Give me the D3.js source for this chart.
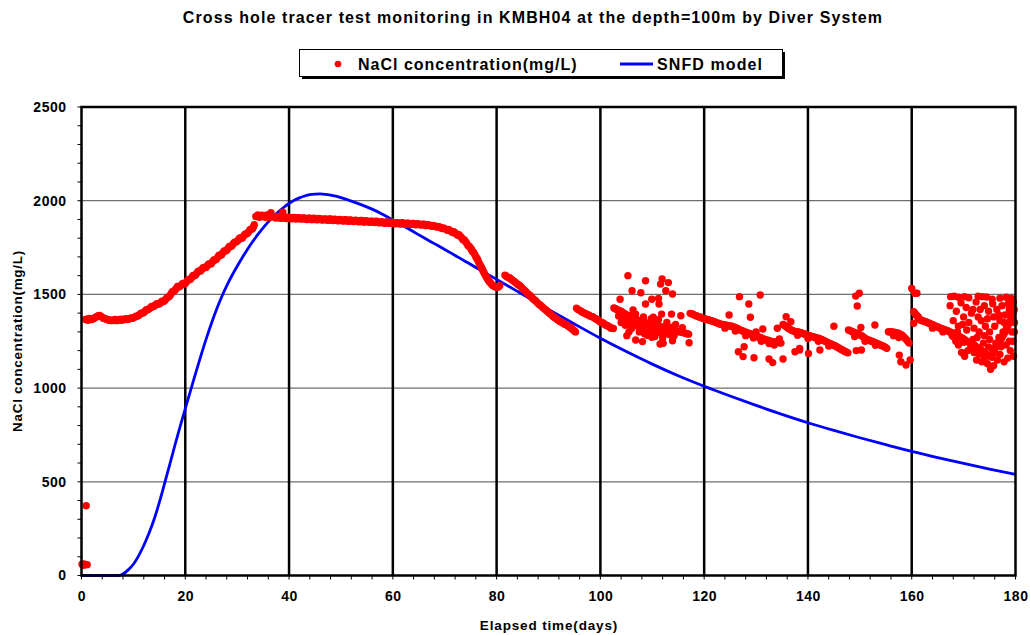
<!DOCTYPE html>
<html>
<head>
<meta charset="utf-8">
<script src="https://cdn.jsdelivr.net/npm/d3@7"></script>
<style>
  html, body { margin: 0; padding: 0; background: #fff; }
  svg { display: block; font-family: Arial, "Liberation Sans", sans-serif; }
</style>
</head>
<body>
<svg id="chart" width="1030" height="635"></svg>
<script>
// ---- Data -------------------------------------------------------------
const xTicks = [0, 20, 40, 60, 80, 100, 120, 140, 160, 180];
const yTicks = [0, 500, 1000, 1500, 2000, 2500];

// SNFD model curve: [elapsed day, concentration mg/L]
const modelCurve = [
  [0, 0], [3, 0], [6, 0], [7.2, 0], [8, 8], [9, 30], [10, 60], [11, 105], [12, 160],
  [13, 225], [14, 300], [15, 390], [16, 490], [17, 592], [18, 695], [19, 795], [20, 890],
  [21, 985], [22, 1080], [23, 1172], [24, 1260], [25, 1342], [26, 1418], [27, 1486],
  [28, 1547], [29, 1601], [30, 1650], [31, 1697], [32, 1741], [33, 1782], [34, 1820],
  [35, 1855], [36, 1887], [37, 1916], [38, 1942], [39, 1965], [40, 1985], [41, 2002],
  [42, 2015], [43, 2025], [44, 2032], [45, 2035], [46, 2036], [47, 2034], [48, 2030],
  [49, 2024], [50, 2016], [52, 1998], [54, 1978], [56, 1955], [58, 1928], [60, 1897],
  [62, 1866], [64, 1834], [66, 1802], [68, 1771], [70, 1740], [72, 1708], [74, 1676],
  [76, 1644], [78, 1612], [80, 1580], [85, 1500], [90, 1420], [95, 1342], [100, 1266],
  [105, 1195], [110, 1128], [115, 1066], [120, 1010], [125, 958], [130, 908], [135, 860],
  [140, 815], [145, 774], [150, 735], [155, 698], [160, 662], [165, 629], [170, 598],
  [175, 568], [180, 540]
];

// NaCl concentration readings: [elapsed day, mg/L]
const naclStart = [
  [0.1, 60], [0.3, 55], [0.5, 62], [0.7, 57], [0.9, 372], [1.1, 58]
];
const naclRise = [
  [0.8, 1366], [1.0, 1368], [1.5, 1372], [2.0, 1366], [2.5, 1374], [3.0, 1382], [3.5, 1388],
  [4.0, 1378], [4.5, 1372], [5.0, 1366], [5.5, 1364], [6.0, 1362], [6.5, 1366], [7.0, 1364],
  [7.5, 1368], [8.0, 1366], [8.5, 1370], [9.0, 1368], [9.5, 1374], [10.0, 1376], [10.5, 1384],
  [11.0, 1388], [11.5, 1400], [12.0, 1404], [12.5, 1418], [13.0, 1422], [13.5, 1436],
  [14.0, 1438], [14.5, 1450], [15.0, 1450], [15.5, 1464], [16.0, 1466], [16.5, 1484],
  [17.0, 1492], [17.5, 1514], [18.0, 1522], [18.5, 1542], [19.0, 1543], [19.5, 1559],
  [20.0, 1558], [20.5, 1578], [21.0, 1581], [21.5, 1601], [22.0, 1604], [22.5, 1624],
  [23.0, 1626], [23.5, 1644], [24.0, 1644], [24.5, 1662], [25.0, 1664], [25.5, 1684],
  [26.0, 1688], [26.5, 1709], [27.0, 1712], [27.5, 1732], [28.0, 1736], [28.5, 1756],
  [29.0, 1760], [29.5, 1779], [30.0, 1783], [30.5, 1801], [31.0, 1801], [31.5, 1821],
  [32.0, 1826], [32.5, 1846], [33.0, 1852], [33.3, 1872], [33.6, 1916]
];
const naclRiseB = [
  [1.25, 1362], [1.75, 1366], [2.25, 1370], [2.75, 1378], [3.25, 1386], [3.75, 1382],
  [4.25, 1372], [4.75, 1368], [5.25, 1362], [5.75, 1360], [6.25, 1362], [6.75, 1360],
  [7.25, 1364], [7.75, 1362], [8.25, 1366], [8.75, 1366], [9.25, 1370], [9.75, 1372],
  [10.25, 1378], [10.75, 1384], [11.25, 1394], [11.75, 1400], [12.25, 1410], [12.75, 1418],
  [13.25, 1428], [13.75, 1434], [14.25, 1444], [14.75, 1448], [15.25, 1456], [15.75, 1462],
  [16.25, 1474], [16.75, 1486], [17.25, 1502], [17.75, 1516], [18.25, 1532], [18.75, 1540],
  [19.25, 1550], [19.75, 1556], [20.25, 1568], [20.75, 1578], [21.25, 1590], [21.75, 1600],
  [22.25, 1614], [22.75, 1624], [23.25, 1636], [23.75, 1642], [24.25, 1653], [24.75, 1662],
  [25.25, 1674], [25.75, 1684], [26.25, 1698], [26.75, 1708], [27.25, 1722], [27.75, 1732],
  [28.25, 1746], [28.75, 1756], [29.25, 1770], [29.75, 1779], [30.25, 1792], [30.75, 1800],
  [31.25, 1811], [31.75, 1822], [32.25, 1836], [32.75, 1847], [33.15, 1862]
];
const naclPlateau = [
  [34.0, 1924], [34.5, 1914], [35.0, 1920], [35.5, 1912], [36.0, 1918], [36.5, 1936],
  [37.0, 1916], [37.5, 1908], [38.0, 1914], [38.5, 1906], [38.8, 1938], [39.0, 1912],
  [39.5, 1905], [40.0, 1911], [40.5, 1904], [41.0, 1910], [41.5, 1903], [42.0, 1909],
  [42.5, 1902], [43.0, 1908], [43.5, 1900], [44.0, 1906], [44.5, 1899], [45.0, 1905],
  [45.5, 1898], [46.0, 1904], [46.5, 1897], [47.0, 1903], [47.5, 1896], [48.0, 1902],
  [48.5, 1894], [49.0, 1900], [49.5, 1893], [50.0, 1899], [50.5, 1892], [51.0, 1898],
  [51.5, 1890], [52.0, 1896], [52.5, 1889], [53.0, 1895], [53.5, 1888], [54.0, 1894],
  [54.5, 1886], [55.0, 1892], [55.5, 1885], [56.0, 1890], [56.5, 1884], [57.0, 1889],
  [57.5, 1882], [58.0, 1887], [58.5, 1880], [59.0, 1886], [59.5, 1879], [60.0, 1884],
  [60.5, 1877], [61.0, 1882], [61.5, 1876], [62.0, 1881], [62.5, 1874], [63.0, 1880],
  [63.5, 1873], [64.0, 1878], [64.5, 1872], [65.0, 1876], [65.5, 1870], [66.0, 1874],
  [66.5, 1867], [67.0, 1870], [67.5, 1864], [68.0, 1866], [68.5, 1860], [69.0, 1860],
  [69.5, 1852], [70.0, 1851], [70.5, 1842], [71.0, 1841], [71.5, 1830], [72.0, 1828],
  [72.5, 1815], [73.0, 1810], [73.5, 1792], [74.0, 1782], [74.5, 1760], [75.0, 1747],
  [75.3, 1730], [75.6, 1722], [76.0, 1700], [76.3, 1688], [76.6, 1668], [77.0, 1648],
  [77.3, 1630], [77.6, 1614], [78.0, 1594], [78.3, 1580], [78.6, 1568], [79.0, 1555],
  [79.3, 1548], [79.6, 1542], [80.0, 1538], [80.3, 1540], [80.6, 1546]
];
const naclPlateauB = [
  [34.25, 1912], [34.75, 1922], [35.25, 1914], [35.75, 1924], [36.25, 1912], [36.75, 1918],
  [37.25, 1910], [37.75, 1916], [38.25, 1908], [38.75, 1914], [39.25, 1906], [39.75, 1912],
  [40.25, 1905], [40.75, 1910], [41.25, 1904], [41.75, 1909], [42.25, 1903], [42.75, 1908],
  [43.25, 1901], [43.75, 1907], [44.25, 1900], [44.75, 1906], [45.25, 1899], [45.75, 1905],
  [46.25, 1898], [46.75, 1903], [47.25, 1897], [47.75, 1902], [48.25, 1895], [48.75, 1901],
  [49.25, 1894], [49.75, 1900], [50.25, 1893], [50.75, 1898], [51.25, 1891], [51.75, 1897],
  [52.25, 1890], [52.75, 1896], [53.25, 1889], [53.75, 1894], [54.25, 1887], [54.75, 1893],
  [55.25, 1886], [55.75, 1891], [56.25, 1885], [56.75, 1890], [57.25, 1883], [57.75, 1888],
  [58.25, 1881], [58.75, 1887], [59.25, 1880], [59.75, 1885], [60.25, 1878], [60.75, 1883],
  [61.25, 1877], [61.75, 1882], [62.25, 1875], [62.75, 1880], [63.25, 1874], [63.75, 1879],
  [64.25, 1873], [64.75, 1877], [65.25, 1871], [65.75, 1875], [66.25, 1868], [66.75, 1872],
  [67.25, 1866], [67.75, 1868], [68.25, 1862], [68.75, 1862], [69.25, 1856], [69.75, 1855],
  [70.25, 1847], [70.75, 1846], [71.25, 1836], [71.75, 1834], [72.25, 1822], [72.75, 1818],
  [73.25, 1802], [73.75, 1792], [74.25, 1772], [74.75, 1756], [75.15, 1740], [75.45, 1728],
  [75.8, 1712], [76.15, 1694], [76.45, 1678], [76.8, 1658], [77.15, 1640], [77.45, 1622],
  [77.8, 1604], [78.15, 1588], [78.45, 1574], [78.8, 1562], [79.15, 1551], [79.45, 1545],
  [79.8, 1540], [80.15, 1538]
];
const naclDecline = [
  [81.6, 1603], [82.0, 1594], [82.5, 1589], [83.0, 1577], [83.5, 1567], [84.0, 1555],
  [84.5, 1546], [85.0, 1531], [85.5, 1519], [86.0, 1504], [86.5, 1493], [87.0, 1477],
  [87.5, 1466], [88.0, 1451], [88.5, 1441], [89.0, 1427], [89.5, 1417], [90.0, 1403],
  [90.5, 1393], [91.0, 1379], [91.5, 1371], [92.0, 1359], [92.5, 1353], [93.0, 1343],
  [93.5, 1338], [94.0, 1327], [94.5, 1317], [95.0, 1305], [95.2, 1300]
];
const naclDeclineB = [
  [81.8, 1598], [82.25, 1590], [82.75, 1582], [83.25, 1572], [83.75, 1561], [84.25, 1550],
  [84.75, 1538], [85.25, 1525], [85.75, 1511], [86.25, 1498], [86.75, 1485], [87.25, 1472],
  [87.75, 1458], [88.25, 1446], [88.75, 1434], [89.25, 1422], [89.75, 1410], [90.25, 1398],
  [90.75, 1386], [91.25, 1375], [91.75, 1365], [92.25, 1356], [92.75, 1348], [93.25, 1340],
  [93.75, 1332], [94.25, 1322], [94.75, 1310]
];
const naclBlock1 = [
  [95.4, 1426], [96.0, 1415], [96.5, 1406], [97.0, 1399], [97.5, 1393], [98.0, 1385],
  [98.5, 1381], [99.0, 1371], [99.5, 1363], [100.0, 1353], [100.5, 1347], [101.0, 1337],
  [101.5, 1331], [102.0, 1321], [102.5, 1318],
  [95.7, 1420], [96.25, 1410], [96.75, 1402], [97.25, 1396], [97.75, 1389], [98.25, 1383],
  [98.75, 1376], [99.25, 1367], [99.75, 1358], [100.25, 1350], [100.75, 1342], [101.25, 1334],
  [101.75, 1326], [102.25, 1320]
];
const naclBlock2 = [
  [102.6, 1428], [103.0, 1422], [103.5, 1415], [104.0, 1410], [104.5, 1400], [105.0, 1392],
  [105.5, 1385], [106.0, 1378], [106.5, 1370], [107.0, 1365], [107.5, 1360], [108.0, 1355],
  [108.5, 1350], [109.0, 1345], [109.5, 1340], [110.0, 1338], [110.5, 1335], [111.0, 1330],
  [111.5, 1328], [112.0, 1325], [112.5, 1320], [113.0, 1318], [113.5, 1314], [114.0, 1310],
  [114.5, 1306], [115.0, 1302], [115.5, 1300], [116.0, 1296], [116.5, 1292], [117.0, 1288],
  [102.8, 1425], [103.25, 1418], [103.75, 1412], [104.25, 1405], [104.75, 1396], [105.25, 1388],
  [105.75, 1382], [106.25, 1374], [106.75, 1368], [107.25, 1362], [107.75, 1358], [108.25, 1352],
  [108.75, 1348], [109.25, 1342], [109.75, 1339], [110.25, 1336], [110.75, 1332], [111.25, 1329],
  [111.75, 1326], [112.25, 1322], [112.75, 1319], [113.25, 1316], [113.75, 1312], [114.25, 1308],
  [114.75, 1304], [115.25, 1301], [115.75, 1298], [116.25, 1294], [116.75, 1290],
  [103.5, 1385], [104.2, 1372], [105.0, 1360], [105.8, 1348], [106.5, 1340], [107.2, 1330],
  [108.0, 1322], [108.8, 1312], [109.5, 1305], [110.3, 1300], [111.0, 1298], [111.8, 1292],
  [112.6, 1290], [113.4, 1285], [114.2, 1280], [104.8, 1335], [106.0, 1318], [107.5, 1300],
  [109.0, 1282], [110.5, 1275], [112.0, 1268], [106.8, 1395], [108.3, 1380], [109.8, 1370],
  [111.2, 1365], [112.8, 1350], [114.5, 1340], [115.8, 1322], [105.5, 1300], [108.5, 1290],
  [110.8, 1310], [113.0, 1300], [104.0, 1350], [107.0, 1350], [110.0, 1355], [113.8, 1325]
];
const naclBlock3 = [
  [117.3, 1399], [117.8, 1395], [118.3, 1388], [118.8, 1382], [119.3, 1378], [119.8, 1372],
  [120.3, 1368], [120.8, 1365], [121.3, 1360], [121.8, 1356], [122.3, 1350], [122.8, 1345],
  [123.3, 1340], [123.8, 1338], [124.3, 1335], [124.8, 1332], [125.3, 1330], [125.8, 1325],
  [126.3, 1320], [126.8, 1312], [127.3, 1306], [127.8, 1300], [128.3, 1296], [128.8, 1290],
  [129.3, 1285], [129.8, 1280], [130.3, 1275], [130.8, 1270], [131.3, 1264], [131.8, 1258],
  [132.3, 1255], [132.8, 1250], [133.3, 1248], [133.8, 1245], [134.3, 1245], [134.8, 1240],
  [117.55, 1397], [118.05, 1391], [118.55, 1385], [119.05, 1380], [119.55, 1375], [120.05, 1370],
  [120.55, 1366], [121.05, 1362], [121.55, 1358], [122.05, 1353], [122.55, 1348], [123.05, 1342],
  [123.55, 1339], [124.05, 1336], [124.55, 1333], [125.05, 1331], [125.55, 1327], [126.05, 1322],
  [126.55, 1316], [127.05, 1309], [127.55, 1303], [128.05, 1298], [128.55, 1293], [129.05, 1287],
  [129.55, 1282], [130.05, 1277], [130.55, 1272], [131.05, 1267], [131.55, 1261], [132.05, 1256],
  [132.55, 1252], [133.05, 1249], [133.55, 1246], [134.05, 1245], [134.55, 1242],
  [124.0, 1320], [126.0, 1305], [128.0, 1280], [129.5, 1268], [131.0, 1250], [132.5, 1238],
  [133.5, 1230], [130.0, 1300], [134.5, 1262]
];
const naclBlock4 = [
  [135.2, 1340], [135.7, 1330], [136.2, 1320], [136.7, 1312], [137.2, 1305], [137.7, 1300],
  [138.2, 1300], [138.7, 1295], [139.2, 1290], [139.7, 1285], [140.2, 1280], [140.7, 1276],
  [141.2, 1272], [141.7, 1268], [142.2, 1265], [142.7, 1258], [143.2, 1252], [143.7, 1245],
  [144.2, 1238], [144.7, 1232], [145.2, 1226], [145.7, 1218], [146.2, 1210], [146.7, 1202],
  [147.2, 1195], [147.7, 1188],
  [135.45, 1335], [135.95, 1325], [136.45, 1316], [136.95, 1308], [137.45, 1302], [137.95, 1300],
  [138.45, 1297], [138.95, 1292], [139.45, 1287], [139.95, 1282], [140.45, 1278], [140.95, 1274],
  [141.45, 1270], [141.95, 1266], [142.45, 1261], [142.95, 1255], [143.45, 1248], [143.95, 1241],
  [144.45, 1235], [144.95, 1229], [145.45, 1222], [145.95, 1214], [146.45, 1206], [146.95, 1198],
  [147.45, 1191], [138.0, 1282], [140.0, 1265], [142.0, 1250], [144.0, 1225]
];
const naclBlock5 = [
  [147.8, 1310], [148.3, 1305], [148.8, 1298], [149.3, 1292], [149.8, 1286], [150.3, 1280],
  [150.8, 1270], [151.3, 1260], [151.8, 1255], [152.3, 1250], [152.8, 1244], [153.3, 1238],
  [153.8, 1232], [154.3, 1226], [154.8, 1220], [155.2, 1212],
  [148.05, 1307], [148.55, 1301], [149.05, 1295], [149.55, 1289], [150.05, 1283], [150.55, 1275],
  [151.05, 1265], [151.55, 1257], [152.05, 1252], [152.55, 1247], [153.05, 1241], [153.55, 1235],
  [154.05, 1229], [154.55, 1223], [155.0, 1216], [149.0, 1275], [151.0, 1250], [153.0, 1228]
];
const naclBlock6 = [
  [155.5, 1301], [156.0, 1300], [156.5, 1298], [157.0, 1296], [157.5, 1292], [158.0, 1285],
  [158.5, 1272], [159.0, 1258], [159.5, 1240], [155.75, 1300], [156.25, 1299], [156.75, 1297],
  [157.25, 1294], [157.75, 1288], [158.25, 1279], [158.75, 1265], [159.25, 1249],
  [156.5, 1280], [157.5, 1270]
];
const naclBlock7 = [
  [160.4, 1408], [160.8, 1392], [161.2, 1380], [161.6, 1365], [162.0, 1360], [162.5, 1356],
  [163.0, 1350], [163.5, 1345], [164.0, 1338], [164.5, 1332], [165.0, 1326], [165.5, 1320],
  [166.0, 1315], [166.5, 1310], [167.0, 1305], [167.5, 1298], [168.0, 1292], [168.5, 1285],
  [169.0, 1278], [169.5, 1270], [170.0, 1262], [170.5, 1252], [171.0, 1245], [171.5, 1238],
  [172.0, 1230], [172.5, 1220], [173.0, 1210], [173.5, 1200], [174.0, 1190], [174.5, 1180],
  [175.0, 1170], [175.5, 1165], [176.0, 1210], [176.5, 1230], [177.0, 1250], [177.5, 1275],
  [178.0, 1300], [178.5, 1330], [179.0, 1360], [179.5, 1400],
  [160.6, 1400], [161.0, 1386], [161.4, 1372], [161.8, 1362], [162.25, 1358], [162.75, 1353],
  [163.25, 1348], [163.75, 1341], [164.25, 1335], [164.75, 1329], [165.25, 1323], [165.75, 1317],
  [166.25, 1312], [166.75, 1307], [167.25, 1301], [167.75, 1295], [168.25, 1288], [168.75, 1281],
  [169.25, 1274], [169.75, 1266], [170.25, 1257], [170.75, 1248], [171.25, 1241], [171.75, 1234],
  [172.25, 1225], [172.75, 1215], [173.25, 1205], [173.75, 1195], [174.25, 1185], [174.75, 1175],
  [176.25, 1220], [176.75, 1240], [177.25, 1262], [177.75, 1288], [178.25, 1315], [178.75, 1345],
  [179.25, 1380], [179.75, 1420],
  [164.0, 1320], [166.0, 1300], [168.0, 1275], [170.0, 1245], [172.0, 1215], [174.0, 1175]
];
// scattered readings away from the main trend
const naclScatter = [
  [105.3, 1600], [108.7, 1573], [111.9, 1582], [111.6, 1555], [113.1, 1563], [106.1, 1520],
  [107.8, 1509], [112.6, 1520], [113.9, 1502], [111.2, 1479], [109.9, 1474], [103.8, 1474],
  [108.7, 1449], [111.3, 1449], [105.1, 1280], [108.1, 1248], [111.5, 1235], [112.1, 1239],
  [113.9, 1253], [117.1, 1242], [106.8, 1257], [109.9, 1271], [113.7, 1289], [115.5, 1386],
  [113.7, 1395], [111.8, 1395], [106.3, 1417], [110.2, 1378],
  [126.8, 1488], [130.8, 1497], [128.6, 1449], [128.9, 1378], [124.8, 1390], [126.6, 1194],
  [127.7, 1221], [127.5, 1168], [129.6, 1162], [132.5, 1155], [133.2, 1136], [135.2, 1155],
  [131.3, 1315], [134.1, 1319], [135.8, 1381], [136.7, 1354],
  [138.4, 1212], [137.5, 1194], [140.1, 1185], [138.4, 1203], [142.3, 1203], [145.0, 1330],
  [149.9, 1506], [149.2, 1491], [149.5, 1438], [150.2, 1324], [152.9, 1337], [149.3, 1200],
  [150.3, 1203], [157.6, 1176], [157.9, 1141], [158.9, 1123], [159.7, 1150],
  [160.0, 1532], [160.6, 1506], [161.0, 1506], [160.4, 1346], [161.2, 1381],
  [167.5, 1488], [168.2, 1490], [169.0, 1485], [170.2, 1488], [171.0, 1482], [172.8, 1490],
  [173.6, 1488], [174.4, 1486], [175.5, 1475], [177.0, 1480], [178.2, 1485], [179.2, 1478],
  [167.4, 1440], [168.6, 1410], [169.5, 1455], [170.5, 1430], [171.5, 1400], [172.4, 1460],
  [173.2, 1420], [174.0, 1440], [174.8, 1410], [175.6, 1450], [176.4, 1420], [177.4, 1440],
  [178.6, 1450], [179.6, 1460], [168.0, 1360], [169.0, 1330], [170.0, 1380], [171.0, 1350],
  [172.0, 1320], [173.0, 1300], [174.0, 1280], [175.0, 1300], [176.0, 1330], [177.0, 1360],
  [178.0, 1390], [179.0, 1400], [179.8, 1350], [179.8, 1300], [179.5, 1250], [179.0, 1200],
  [178.5, 1160], [177.8, 1140], [177.0, 1180], [176.5, 1150], [175.8, 1120], [175.2, 1100],
  [174.6, 1130], [174.0, 1160], [173.5, 1140], [173.0, 1180], [172.5, 1150], [172.0, 1190],
  [171.4, 1220], [170.8, 1200], [170.2, 1170], [169.6, 1190], [169.0, 1230], [168.5, 1250],
  [171.8, 1260], [172.6, 1270], [173.8, 1240], [174.8, 1220], [175.5, 1210], [176.2, 1240],
  [176.8, 1270], [177.6, 1300], [178.3, 1330], [178.8, 1250], [179.3, 1300], [179.6, 1170],
  [178.2, 1230], [177.2, 1220], [176.0, 1190], [175.0, 1260], [174.2, 1330], [173.4, 1360],
  [172.8, 1380], [171.8, 1420], [170.6, 1310], [169.8, 1340], [168.8, 1300], [167.8, 1280],
  [176.8, 1390], [175.8, 1380], [174.6, 1370], [177.8, 1350], [178.8, 1420], [179.4, 1440]
];

const naclAll = [].concat(naclStart, naclRise, naclRiseB, naclPlateau, naclPlateauB,
  naclDecline, naclDeclineB, naclBlock1, naclBlock2, naclBlock3, naclBlock4, naclBlock5,
  naclBlock6, naclBlock7, naclScatter);

// ---- Layout -----------------------------------------------------------
const svg = d3.select("#chart");
const plot = { left: 81.5, right: 1015.5, top: 107, bottom: 575.5 };

const x = d3.scaleLinear().domain([0, 180]).range([plot.left, plot.right]);
const y = d3.scaleLinear().domain([0, 2500]).range([plot.bottom, plot.top]);

// title
svg.append("text")
  .attr("x", 533).attr("y", 23)
  .attr("text-anchor", "middle")
  .attr("font-size", 16).attr("font-weight", "bold")
  .attr("letter-spacing", 1.1)
  .text("Cross hole tracer test monitoring in KMBH04 at the depth=100m by Diver System");

// horizontal grid lines
svg.append("g").selectAll("line")
  .data(yTicks.filter(v => v > 0 && v < 2500))
  .join("line")
  .attr("x1", plot.left).attr("x2", plot.right)
  .attr("y1", d => y(d)).attr("y2", d => y(d))
  .attr("stroke", "#6e6e6e").attr("stroke-width", 1.2);

// vertical grid lines
svg.append("g").selectAll("line")
  .data(xTicks.filter(v => v > 0 && v < 180))
  .join("line")
  .attr("x1", d => x(d)).attr("x2", d => x(d))
  .attr("y1", plot.top).attr("y2", plot.bottom)
  .attr("stroke", "#000").attr("stroke-width", 2.5);

// minor tick marks
svg.append("g").selectAll("line")
  .data(d3.range(0, 2501, 100))
  .join("line")
  .attr("x1", plot.left - 4).attr("x2", plot.left)
  .attr("y1", d => y(d)).attr("y2", d => y(d))
  .attr("stroke", "#000").attr("stroke-width", 1);
svg.append("g").selectAll("line")
  .data(d3.range(0, 181, 4))
  .join("line")
  .attr("x1", d => x(d)).attr("x2", d => x(d))
  .attr("y1", plot.bottom).attr("y2", plot.bottom + 4)
  .attr("stroke", "#000").attr("stroke-width", 1);

// tick labels drawn by d3 axes (tick marks hidden)
const xAxis = svg.append("g")
  .attr("transform", `translate(0,${plot.bottom})`)
  .call(d3.axisBottom(x).tickValues(xTicks).tickSize(0).tickPadding(16).tickFormat(d3.format("d")));
const yAxis = svg.append("g")
  .attr("transform", `translate(${plot.left},0)`)
  .call(d3.axisLeft(y).tickValues(yTicks).tickSize(0).tickPadding(15).tickFormat(d3.format("d")));
[xAxis, yAxis].forEach(g => {
  g.select(".domain").remove();
  g.selectAll("text")
    .attr("font-size", 14).attr("font-weight", "bold")
    .attr("letter-spacing", 0.5)
    .attr("font-family", 'Arial, "Liberation Sans", sans-serif')
    .attr("fill", "#000");
});

// model curve
svg.append("path")
  .datum(modelCurve)
  .attr("fill", "none")
  .attr("stroke", "#0000ff")
  .attr("stroke-width", 2.8)
  .attr("d", d3.line().x(d => x(d[0])).y(d => y(d[1])).curve(d3.curveMonotoneX));

// concentration readings
svg.append("g").selectAll("circle")
  .data(naclAll)
  .join("circle")
  .attr("cx", d => x(d[0])).attr("cy", d => y(d[1]))
  .attr("r", 3.7)
  .attr("fill", "#ff0000");

// plot frame
svg.append("rect")
  .attr("x", plot.left).attr("y", plot.top)
  .attr("width", plot.right - plot.left).attr("height", plot.bottom - plot.top)
  .attr("fill", "none").attr("stroke", "#000").attr("stroke-width", 2.5);

// axis titles
svg.append("text")
  .attr("x", 549).attr("y", 630)
  .attr("text-anchor", "middle")
  .attr("font-size", 13.5).attr("font-weight", "bold")
  .attr("letter-spacing", 0.85)
  .text("Elapsed time(days)");
svg.append("text")
  .attr("transform", "translate(22,341) rotate(-90)")
  .attr("text-anchor", "middle")
  .attr("font-size", 13.5).attr("font-weight", "bold")
  .attr("letter-spacing", 0.7)
  .text("NaCl concentration(mg/L)");

// legend
const legend = svg.append("g");
legend.append("rect")
  .attr("x", 302).attr("y", 52).attr("width", 483).attr("height", 27)
  .attr("fill", "#000");
legend.append("rect")
  .attr("x", 299.5).attr("y", 49.5).attr("width", 483).attr("height", 27)
  .attr("fill", "#fff").attr("stroke", "#000").attr("stroke-width", 1);
legend.append("circle")
  .attr("cx", 338).attr("cy", 64).attr("r", 3.3).attr("fill", "#ff0000");
legend.append("text")
  .attr("x", 358).attr("y", 70)
  .attr("font-size", 16).attr("font-weight", "bold")
  .attr("letter-spacing", 1)
  .text("NaCl concentration(mg/L)");
legend.append("line")
  .attr("x1", 620).attr("x2", 653).attr("y1", 64).attr("y2", 64)
  .attr("stroke", "#0000ff").attr("stroke-width", 2.8);
legend.append("text")
  .attr("x", 657).attr("y", 70)
  .attr("font-size", 16).attr("font-weight", "bold")
  .attr("letter-spacing", 1.1)
  .text("SNFD model");
</script>
</body>
</html>
